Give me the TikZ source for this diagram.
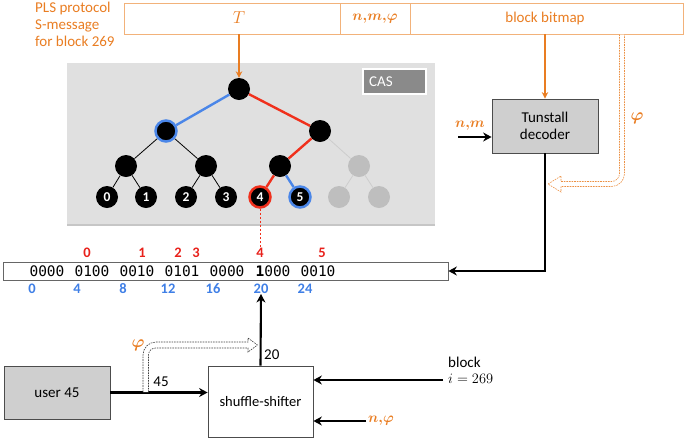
\documentclass[tikz,border=0pt]{standalone}
\usepackage{amsmath}
\usepackage{fontspec}
\setmainfont{Carlito}
\newfontfamily\bitfont{DejaVu Sans Mono}
\usetikzlibrary{arrows.meta,shadows}
\definecolor{orng}{HTML}{E97D22}
\definecolor{bordorng}{HTML}{F2B27A}
\definecolor{redc}{HTML}{F0301C}
\definecolor{redt}{HTML}{E8211B}
\definecolor{bluec}{HTML}{4A86E8}
\definecolor{bluet}{HTML}{3F7FE6}
\definecolor{treebg}{HTML}{E0E0E0}
\definecolor{boxgray}{HTML}{CFCFCF}
\definecolor{grayn}{HTML}{BEBEBE}
\definecolor{grayl}{HTML}{CDCDCD}
\definecolor{casgray}{HTML}{8A8A8A}
\begin{document}
\begin{tikzpicture}[x=1pt,y=-1pt,
  txt/.style={inner sep=0pt, font=\fontsize{15}{17}\selectfont},
  mth/.style={inner sep=0pt, text=orng, font=\fontsize{15}{17}\selectfont\boldmath},
  bn/.style={circle, fill=black, minimum size=22pt, inner sep=0pt, text=white, font=\fontsize{13.5}{13}\selectfont\bfseries},
  gn/.style={circle, fill=grayn, minimum size=22pt, inner sep=0pt},
  blk/.style={line width=2.1pt, -{Stealth[length=8.5pt,width=9pt]}},
  org/.style={orng, line width=1.4pt, -{Stealth[length=6.5pt,width=6.5pt]}},
  redn/.style={inner sep=0pt, text=redt, font=\fontsize{14.5}{14}\selectfont\bfseries},
  blun/.style={inner sep=0pt, text=bluet, font=\fontsize{14.5}{14}\selectfont\bfseries},
  bitg/.style={inner sep=0pt, font=\bitfont\fontsize{14.5}{15}\selectfont},
  bedge/.style={bluec, line width=2.4pt},
  redge/.style={redc, line width=2.4pt},
  kedge/.style={black, line width=0.8pt},
  gedge/.style={grayl, line width=0.8pt},
  hollow/.style={line width=0.6pt, dash pattern=on 1.6pt off 1pt, fill=white}
]
\useasboundingbox (0,0) rectangle (685,440);

% top message bar
\node[draw=bordorng, line width=0.8pt, minimum width=216pt, minimum height=31pt, inner sep=0pt] (barT) at (232,18.5) {};
\node[draw=bordorng, line width=0.8pt, minimum width=70pt, minimum height=31pt, inner sep=0pt] (barNM) at (375,18.5) {};
\node[draw=bordorng, line width=0.8pt, minimum width=273pt, minimum height=31pt, inner sep=0pt] (barBB) at (546.5,18.5) {};
\node[inner sep=0pt, text=orng, font=\fontsize{16}{16}\selectfont] (lT) at (239,18) {$T$};
\node[mth] (lNM) at (375,18.5) {$n{,}m{,}\varphi$};
\node[txt, text=orng] (lBB) at (545,18) {block bitmap};
\node[txt, text=orng, align=left, anchor=north west] (pls) at (35,1.5) {PLS protocol\\S-message\\for block 269};

% tree panel
\node[fill=treebg, minimum width=368pt, minimum height=161pt, inner sep=0pt,
      drop shadow={shadow xshift=0pt, shadow yshift=-1.5pt, opacity=0.45}] (panel) at (251,143.5) {};
\node[draw=white, line width=2.5pt, fill=casgray, minimum width=63pt, minimum height=25pt, inner sep=0pt] (cas) at (394.5,81.5) {};
\node[txt, text=white, anchor=west] (castxt) at (369,81.5) {CAS};

% tree nodes
\node[bn] (r) at (239,89) {};
\node[bn, draw=bluec, line width=2.5pt, minimum size=21pt] (a) at (166,131) {};
\node[bn] (b) at (320,131) {};
\node[bn] (c1) at (126,166) {};
\node[bn] (c2) at (206,166) {};
\node[bn] (c3) at (280,166) {};
\node[gn] (c4) at (359,166) {};
\node[bn] (l0) at (107,197) {0};
\node[bn] (l1) at (146,197) {1};
\node[bn] (l2) at (186,197) {2};
\node[bn] (l3) at (226,197) {3};
\node[bn, draw=redc, line width=2.5pt, minimum size=21pt] (l4) at (260,197) {4};
\node[bn, draw=bluec, line width=2.5pt, minimum size=21pt] (l5) at (300,197) {5};
\node[gn] (l6) at (339,197) {};
\node[gn] (l7) at (379,197) {};

\draw[bedge] (r) -- (a);
\draw[redge] (r) -- (b);
\draw[kedge] (a) -- (c1);
\draw[kedge] (a) -- (c2);
\draw[redge] (b) -- (c3);
\draw[gedge] (b) -- (c4);
\draw[kedge] (c1) -- (l0);
\draw[kedge] (c1) -- (l1);
\draw[kedge] (c2) -- (l2);
\draw[kedge] (c2) -- (l3);
\draw[redge] (c3) -- (l4);
\draw[bedge] (c3) -- (l5);
\draw[gedge] (c4) -- (l6);
\draw[gedge] (c4) -- (l7);

\draw[org] (r |- barT.south) -- (r.north);

% bit string
\node[draw=black!60, line width=0.8pt, fill=white, minimum width=445pt, minimum height=18pt, inner sep=0pt] (bits) at (225.5,271) {};
\node[bitg] (g0) at (47,271.5) {0000};
\node[bitg] (g1) at (92,271.5) {0100};
\node[bitg] (g2) at (137,271.5) {0010};
\node[bitg] (g3) at (182,271.5) {0101};
\node[bitg] (g4) at (227,271.5) {0000};
\node[bitg] (g5) at (273,271.5) {\textbf{1}000};
\node[bitg] (g6) at (318,271.5) {0010};

\node[redn] (r0) at (87,253) {0};
\node[redn] (r1) at (142,253) {1};
\node[redn] (r2) at (178,253) {2};
\node[redn] (r3) at (196,253) {3};
\node[redn] (r4) at (260,253) {4};
\node[redn] (r5) at (322,253) {5};

\node[blun] (b0) at (32,289) {0};
\node[blun] (b4) at (77,289) {4};
\node[blun] (b8) at (123,289) {8};
\node[blun] (b12) at (168,289) {12};
\node[blun] (b16) at (213,289) {16};
\node[blun] (b20) at (261,289) {20};
\node[blun] (b24) at (305,289) {24};

\draw[redc, line width=0.6pt, dash pattern=on 2pt off 2pt] (l4.south) -- (r4.north);

% Tunstall decoder
\node[draw=black!70, line width=0.8pt, fill=boxgray, minimum width=106pt, minimum height=54pt, inner sep=0pt,
      align=center, font=\fontsize{15}{17}\selectfont] (tun) at (545,126) {Tunstall\\decoder};
\draw[org] (tun.north |- barBB.south) -- (tun.north);
\coordinate (nmin) at (458,137);
\draw[blk] (nmin) -- (nmin -| tun.west);
\node[mth] (lnm) at (470,126) {$n{,}m$};
\draw[blk] (tun.south) |- (bits.east);
\node[mth, font=\fontsize{17}{17}\selectfont\boldmath] (lphi1) at (637,118) {$\varphi$};

% hollow dashed phi arrow (top right)
\draw[hollow, draw=orng!85]
  (619.5,34.5) [rounded corners=8pt] -- (619.5,181.5) [sharp corners] -- (561,181.5) -- (561,176)
  -- (548,184) -- (561,192) -- (561,186.5) [rounded corners=13pt] -- (624.5,186.5) [sharp corners] -- (624.5,34.5);

% user and shuffle-shifter
\node[draw=black!70, line width=0.8pt, fill=boxgray, minimum width=106pt, minimum height=53pt, inner sep=0pt,
      font=\fontsize{15}{15}\selectfont] (user) at (57,392.5) {user 45};
\node[draw=black!70, line width=0.8pt, fill=white, minimum width=105pt, minimum height=71pt, inner sep=0pt,
      font=\fontsize{14.5}{15}\selectfont] (sh) at (260.5,401.5) {shuffle-shifter};
\draw[blk] (user.east) -- (user.east -| sh.west);
\draw[blk] (sh.north) -- (b20.south);
\node[txt] (l45) at (161,382) {45};
\node[txt, anchor=west] (l20) at (264,355) {20};

% hollow dashed phi arrow (bottom)
\draw[hollow, draw=black!75]
  (143,392) [rounded corners=13pt] -- (143,342) [sharp corners] -- (248,342) -- (248,338)
  -- (257.5,345) -- (248,352) -- (248,348) [rounded corners=7pt] -- (148.5,348) [sharp corners] -- (148.5,392);
\node[mth, font=\fontsize{17}{17}\selectfont\boldmath] (lphi2) at (138,345) {$\varphi$};

\coordinate (blkin) at (443,380);
\draw[blk] (blkin) -- (blkin -| sh.east);
\node[txt, anchor=west] (lblock) at (448,362) {block};
\node[txt, anchor=west, font=\fontsize{15}{17}\selectfont] (li) at (448,379) {$i = 269$};
\coordinate (nphiin) at (366,421);
\draw[blk] (nphiin) -- (nphiin -| sh.east);
\node[mth, anchor=west] (lnphi) at (368,421) {$n{,}\varphi$};
\end{tikzpicture}
\end{document}
